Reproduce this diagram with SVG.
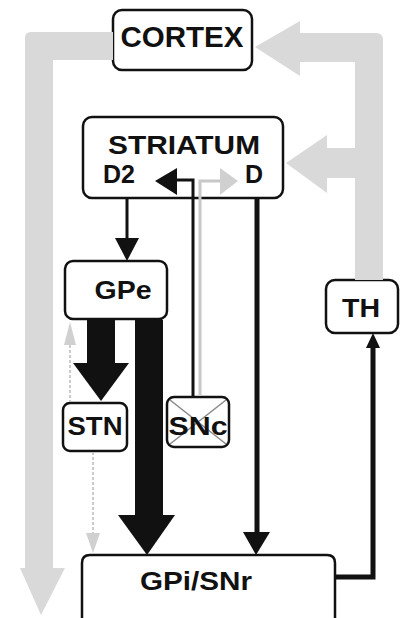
<svg xmlns="http://www.w3.org/2000/svg" width="400" height="618" viewBox="0 0 400 618">
<style>
.box{fill:#fff;stroke:#111;stroke-width:2.5}
.lbl{font-family:"Liberation Sans",Arial,sans-serif;font-weight:bold;fill:#111;text-anchor:middle}
.band{fill:#d9d9d9}
.blk{fill:#111}
.ln{fill:none;stroke:#111}
</style>
<rect width="400" height="618" fill="#fff"/>
<g id="cortex">
  <rect class="box" x="113" y="10" width="139" height="60" rx="9"/>
  <text class="lbl" x="182" y="47" font-size="29" textLength="123" lengthAdjust="spacingAndGlyphs">CORTEX</text>
</g>
<g id="striatum">
  <rect class="box" x="83" y="117" width="200" height="81" rx="9"/>
  <text class="lbl" x="184" y="154" font-size="26" textLength="152" lengthAdjust="spacingAndGlyphs">STRIATUM</text>
  <text class="lbl" x="119" y="183" font-size="25">D2</text>
  <text class="lbl" x="254" y="183" font-size="25">D</text>
</g>
<g id="gpe">
  <rect class="box" x="65" y="261" width="102" height="58" rx="8"/>
  <text class="lbl" x="123" y="299" font-size="26" textLength="57" lengthAdjust="spacingAndGlyphs">GPe</text>
</g>
<g id="th">
  <rect class="box" x="326" y="280" width="72" height="53" rx="9"/>
  <text class="lbl" x="361" y="317" font-size="26" textLength="38" lengthAdjust="spacingAndGlyphs">TH</text>
</g>
<g id="stn">
  <rect class="box" x="63" y="403" width="64" height="48" rx="7"/>
  <text class="lbl" x="95" y="435" font-size="26" textLength="55" lengthAdjust="spacingAndGlyphs">STN</text>
</g>
<g id="snc">
  <rect class="box" x="167" y="397" width="62" height="50" rx="7"/>
  <line x1="170" y1="400" x2="226" y2="444" stroke="#888" stroke-width="1.5"/>
  <line x1="226" y1="400" x2="170" y2="444" stroke="#888" stroke-width="1.5"/>
  <text class="lbl" x="198" y="435" font-size="26" textLength="59" lengthAdjust="spacingAndGlyphs">SNc</text>
</g>
<g id="gpisnr">
  <path d="M82,618 L82,563 Q82,555 90,555 L327,555 Q335,555 335,563 L335,618" fill="#fff" stroke="#111" stroke-width="2.5"/>
  <text class="lbl" x="196" y="590" font-size="25" textLength="112" lengthAdjust="spacingAndGlyphs">GPi/SNr</text>
</g>
<g id="connectors">
  <path class="band" d="M113,32 L31,32 Q25,32 25,38 L25,568 L20,568 L41,615 L65,568 L53,568 L53,60 L113,60 Z"/>
  <path class="band" d="M355,280 L355,178 L327,178 L327,193 L286,163 L327,135 L327,148 L355,148 L355,62 L300,62 L300,76 L255,47 L300,21 L300,33 L376,33 Q383,33 383,40 L383,280 Z"/>
  <line class="ln" x1="127" y1="199" x2="127" y2="240" stroke-width="3"/>
  <polygon class="blk" points="115,238 139,238 127,261"/>
  <rect class="blk" x="87" y="320" width="28" height="44"/>
  <polygon class="blk" points="73,363 129,363 101,401"/>
  <rect class="blk" x="135" y="320" width="28" height="196"/>
  <polygon class="blk" points="118,515 175,515 147,555"/>
  <line class="ln" x1="257" y1="199" x2="257" y2="534" stroke-width="5"/>
  <polygon class="blk" points="243,532 270,532 256,555"/>
  <polyline class="ln" points="336,577 373,577 373,345" stroke-width="5"/>
  <polygon class="blk" points="366,348 380,348 373,333"/>
  <polyline class="ln" points="193,396 193,180 175,180" stroke-width="3"/>
  <polygon class="blk" points="177,168 177,195 155,181"/>
  <polyline points="200,396 200,181 222,181" fill="none" stroke="#c8c8c8" stroke-width="3"/>
  <polygon points="220,168 220,195 238,181" fill="#d0d0d0"/>
  <line x1="70" y1="340" x2="70" y2="402" stroke="#bbb" stroke-width="1.5" stroke-dasharray="3,2"/>
  <polygon points="64,345 76,345 70,322" fill="#d0d0d0"/>
  <line x1="93" y1="452" x2="93" y2="535" stroke="#bbb" stroke-width="1.5" stroke-dasharray="3,2"/>
  <polygon points="86,533 100,533 93,553" fill="#d0d0d0"/>
</g>
</svg>
